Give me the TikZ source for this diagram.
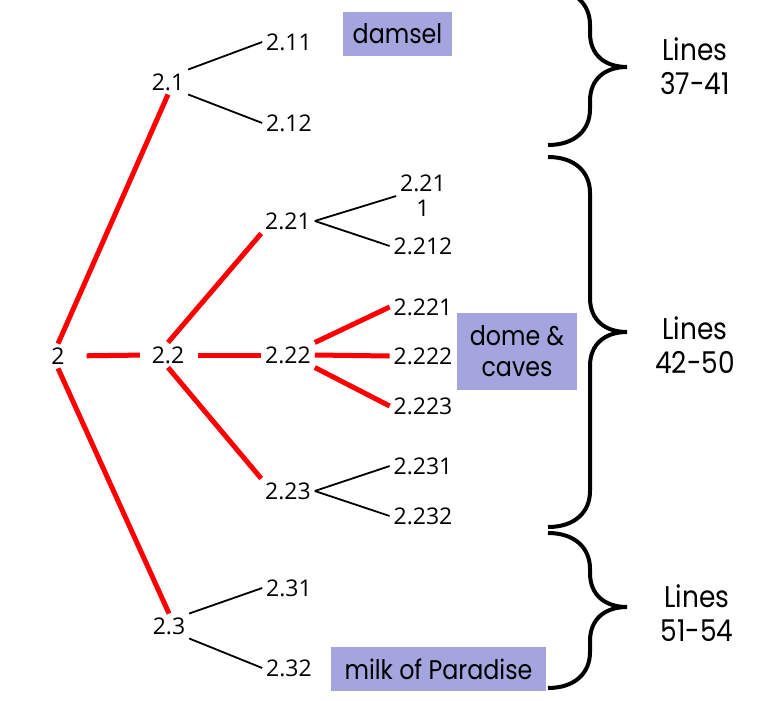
\documentclass[tikz,border=0pt]{standalone}
\usepackage{fontspec}
\setmainfont{Open Sans}
\newfontfamily\geofont[FakeStretch=0.88]{Poppins}

\definecolor{boxlav}{RGB}{164,164,222}
\definecolor{pathred}{RGB}{255,0,0}

% brace: top y, tip y, bottom y
\newcommand{\curlybrace}[3]{%
	\draw[line width=4pt] (548,#1) .. controls (575,#1) and (590,#1+15) .. (590,#1+36)
		-- (590,#2-34) .. controls (590,#2-12) and (605,#2) .. (627,#2)
		.. controls (605,#2) and (590,#2+12) .. (590,#2+34)
		-- (590,#3-36) .. controls (590,#3-15) and (575,#3) .. (548,#3);}

\tikzset{
	num/.style={font=\fontsize{23}{25}\selectfont, inner sep=0pt, outer sep=4pt},
	redline/.style={draw=pathred, line width=5pt},
	subline/.style={draw=black, line width=1.8pt},
	notebox/.style={fill=boxlav, font=\geofont\fontsize{27}{31}\selectfont, align=center, inner sep=0pt},
	linesnote/.style={font=\geofont\fontsize{30}{34}\selectfont, align=center},
}

\begin{document}
\begin{tikzpicture}[x=1pt, y=-1pt]
		\useasboundingbox (0,0) rectangle (779,701);
		% tree labels
		\node[num] (n2)    at (58,356)  {2};
		\node[num] (n21)   at (168,82)  {2.1};
		\node[num] (n22)   at (168,355) {2.2};
		\node[num] (n23)   at (169,626) {2.3};
		\node[num] (n211)  at (289,42)  {2.11};
		\node[num] (n212)  at (289,123) {2.12};
		\node[num] (n221)  at (288,221) {2.21};
		\node[num] (n222)  at (288,355) {2.22};
		\node[num] (n223)  at (288,491) {2.23};
		\node[num, align=center] (n2211) at (423,196) {2.21\\1};
		\node[num] (n2212) at (423,246) {2.212};
		\node[num] (n2221) at (423,307) {2.221};
		\node[num] (n2222) at (423,356) {2.222};
		\node[num] (n2223) at (423,406) {2.223};
		\node[num] (n2231) at (423,466) {2.231};
		\node[num] (n2232) at (423,516) {2.232};
		\node[num] (n231)  at (289,588) {2.31};
		\node[num] (n232)  at (289,668) {2.32};
		% red path
		\draw[redline] (n2.north) -- (n21.south);
		\draw[redline] (n2.south) -- (n23.north);
		\draw[redline, shorten <=18pt, shorten >=8pt] (n2.east) -- (n22.west);
		\draw[redline] (n22.north) -- (n221.south west);
		\draw[redline] (n22.south) -- (n223.north west);
		\draw[redline, shorten <=10pt] (n22.east) -- (n222.west);
		\draw[redline] (n222.north east) -- (n2221.west);
		\draw[redline] (n222.east) -- (n2222.west);
		\draw[redline] (n222.south east) -- (n2223.west);
		% black branches
		\draw[subline] (n21.north east) -- (n211.west);
		\draw[subline] (n21.south east) -- (n212.west);
		\draw[subline] (n221.east) -- (n2211.west);
		\draw[subline] (n221.east) -- (n2212.west);
		\draw[subline] (n223.east) -- (n2231.west);
		\draw[subline] (n223.east) -- (n2232.west);
		\draw[subline] (n23.north east) -- (n231.west);
		\draw[subline] (n23.south east) -- (n232.west);
		% boxes
		\node[notebox, minimum width=109pt, minimum height=44pt] (damsel) at (397.5,34) {damsel};
		\node[notebox, minimum width=120pt, minimum height=77pt] (dome) at (517,351.5) {dome \&\\caves};
		\node[notebox, minimum width=215pt, minimum height=44pt] (milk) at (438.5,669) {milk of Paradise};
		% braces
		\curlybrace{-11}{67}{145}
		\curlybrace{157}{332}{527}
		\curlybrace{533}{607}{688}
		% line numbers
		\node[linesnote] (lines1) at (695,66)  {Lines\\37-41};
		\node[linesnote] (lines2) at (695,345) {Lines\\42-50};
		\node[linesnote] (lines3) at (697,613) {Lines\\51-54};
	\end{tikzpicture}
\end{document}
